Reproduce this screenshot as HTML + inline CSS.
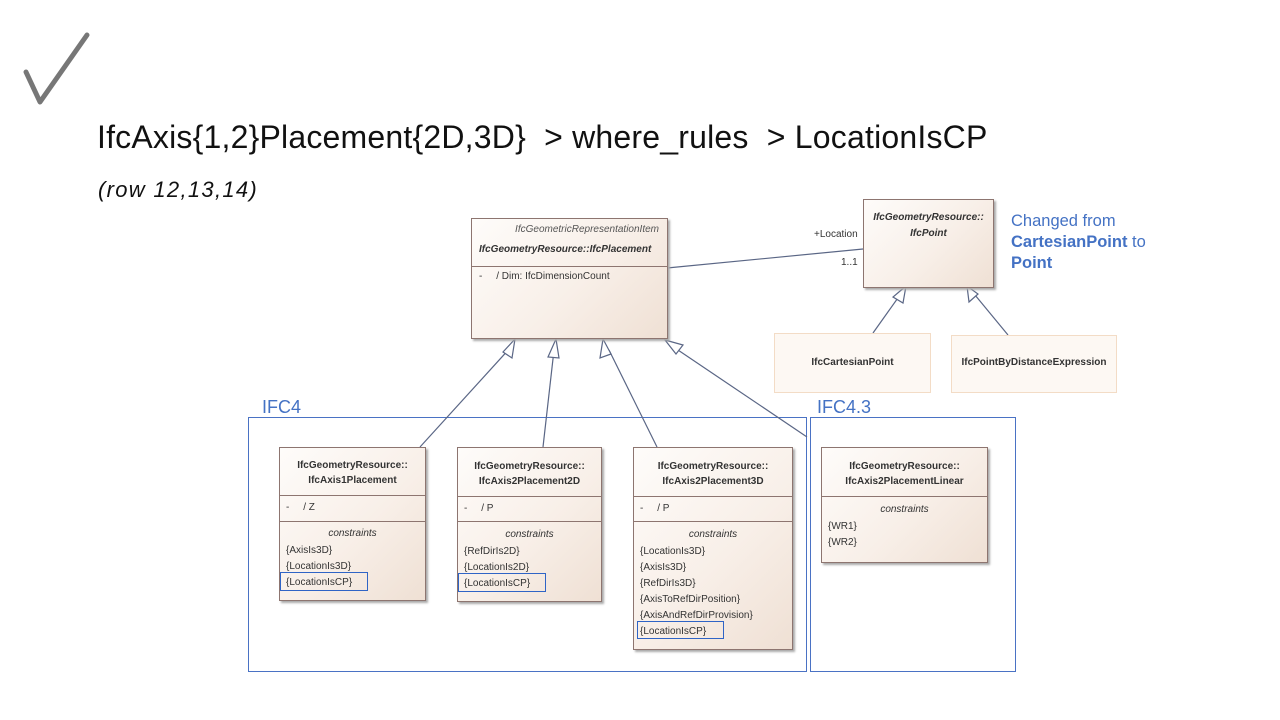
<!DOCTYPE html>
<html><head><meta charset="utf-8"><style>
body{margin:0;width:1280px;height:720px;background:#fff;position:relative;overflow:hidden;font-family:"Liberation Sans",sans-serif}
.b{position:absolute;border:1px solid #8d7570;background:linear-gradient(135deg,#fefcfa 0%,#f8efe8 55%,#efe0d4 100%);box-shadow:2px 2px 2px #aaa;box-sizing:border-box;font-size:10px;color:#333}
.s{position:absolute;left:0;right:0;border-top:1px solid #8d7570}
.t{position:absolute;font-size:10px;color:#333;white-space:nowrap}
.c{position:absolute;left:0;right:0;text-align:center;font-weight:bold;font-size:10px;line-height:15px;color:#333}
.r{position:absolute;border:1px solid #2f64c6}
.l{position:absolute;border:1px solid #4a72c4}
</style></head><body>
<svg style="position:absolute;left:0;top:0" width="120" height="120"><polyline points="26,72 40,102 87,35" fill="none" stroke="#777" stroke-width="5" stroke-linejoin="round" stroke-linecap="round"/></svg>
<div style="position:absolute;left:97px;top:119px;font-size:32px;letter-spacing:0.2px;color:#111;white-space:nowrap">IfcAxis{1,2}Placement{2D,3D}&nbsp; &gt; where_rules&nbsp; &gt; LocationIsCP</div>
<div style="position:absolute;left:98px;top:177px;font-size:22px;font-style:italic;color:#111;letter-spacing:1.3px">(row 12,13,14)</div>

<div class="l" style="left:248px;top:417px;width:557px;height:253px"></div>
<div class="l" style="left:810px;top:417px;width:204px;height:253px"></div>
<div style="position:absolute;left:262px;top:397px;font-size:18px;color:#4472c4">IFC4</div>
<div style="position:absolute;left:817px;top:397px;font-size:18px;color:#4472c4">IFC4.3</div>

<svg style="position:absolute;left:0;top:0" width="1280" height="720">
<g stroke="#5a6685" stroke-width="1.2" fill="#fff">
<line x1="667" y1="268" x2="863" y2="249"/>
<line x1="420" y1="447" x2="511" y2="347"/>
<line x1="543" y1="447" x2="554" y2="350"/>
<line x1="657" y1="447" x2="609" y2="350"/>
<line x1="807" y1="437" x2="675" y2="348"/>
<line x1="873" y1="333" x2="900" y2="295"/>
<line x1="1008" y1="335" x2="975" y2="295"/>
<polygon points="515,339 503,352 512,358"/>
<polygon points="556,339 548,357 559,358"/>
<polygon points="603,339 600,358 611,354"/>
<polygon points="665,340 676,354 683,345"/>
<polygon points="906,286 893,297 903,303"/>
<polygon points="967,286 969,302 978,294"/>
</g></svg>
<div class="t" style="left:814px;top:229px">+Location</div>
<div class="t" style="left:841px;top:257px">1..1</div>

<div class="b" style="left:471px;top:218px;width:197px;height:121px">
<div class="t" style="right:8px;top:5px;font-style:italic;color:#555">IfcGeometricRepresentationItem</div>
<div class="t" style="left:7px;top:25px;font-style:italic;font-weight:bold">IfcGeometryResource::IfcPlacement</div>
<div class="s" style="top:47px"></div>
<div class="t" style="left:7px;top:52px">-&nbsp;&nbsp;&nbsp;&nbsp;&nbsp;/ Dim: IfcDimensionCount</div>
</div>
<div class="b" style="left:863px;top:199px;width:131px;height:89px">
<div class="c" style="top:10px;font-style:italic;line-height:16px">IfcGeometryResource::<br>IfcPoint</div>
</div>
<div class="b" style="left:774px;top:333px;width:157px;height:60px;border-color:#f3dcc6;box-shadow:none;background:#fdf8f3"><div class="c" style="top:21px">IfcCartesianPoint</div></div>
<div class="b" style="left:951px;top:335px;width:166px;height:58px;border-color:#f3dcc6;box-shadow:none;background:#fdf8f3"><div class="c" style="top:19px">IfcPointByDistanceExpression</div></div>

<div class="b" style="left:279px;top:447px;width:147px;height:154px">
<div class="c" style="top:10px">IfcGeometryResource::<br>IfcAxis1Placement</div>
<div class="s" style="top:47px"></div>
<div class="t" style="left:6px;top:54px">-&nbsp;&nbsp;&nbsp;&nbsp;&nbsp;/ Z</div>
<div class="s" style="top:73px"></div>
<div class="t" style="left:0;right:0;top:80px;text-align:center;font-style:italic">constraints</div>
<div class="t" style="left:6px;top:95px;line-height:16px">{AxisIs3D}<br>{LocationIs3D}<br>{LocationIsCP}</div>
<div class="r" style="left:0;top:124px;width:86px;height:17px"></div>
</div>
<div class="b" style="left:457px;top:447px;width:145px;height:155px">
<div class="c" style="top:11px">IfcGeometryResource::<br>IfcAxis2Placement2D</div>
<div class="s" style="top:48px"></div>
<div class="t" style="left:6px;top:55px">-&nbsp;&nbsp;&nbsp;&nbsp;&nbsp;/ P</div>
<div class="s" style="top:73px"></div>
<div class="t" style="left:0;right:0;top:81px;text-align:center;font-style:italic">constraints</div>
<div class="t" style="left:6px;top:96px;line-height:16px">{RefDirIs2D}<br>{LocationIs2D}<br>{LocationIsCP}</div>
<div class="r" style="left:0;top:125px;width:86px;height:17px"></div>
</div>
<div class="b" style="left:633px;top:447px;width:160px;height:203px">
<div class="c" style="top:11px">IfcGeometryResource::<br>IfcAxis2Placement3D</div>
<div class="s" style="top:48px"></div>
<div class="t" style="left:6px;top:55px">-&nbsp;&nbsp;&nbsp;&nbsp;&nbsp;/ P</div>
<div class="s" style="top:73px"></div>
<div class="t" style="left:0;right:0;top:81px;text-align:center;font-style:italic">constraints</div>
<div class="t" style="left:6px;top:96px;line-height:16px">{LocationIs3D}<br>{AxisIs3D}<br>{RefDirIs3D}<br>{AxisToRefDirPosition}<br>{AxisAndRefDirProvision}<br>{LocationIsCP}</div>
<div class="r" style="left:3px;top:173px;width:85px;height:16px"></div>
</div>
<div class="b" style="left:821px;top:447px;width:167px;height:116px">
<div class="c" style="top:11px">IfcGeometryResource::<br>IfcAxis2PlacementLinear</div>
<div class="s" style="top:48px"></div>
<div class="t" style="left:0;right:0;top:56px;text-align:center;font-style:italic">constraints</div>
<div class="t" style="left:6px;top:71px;line-height:16px">{WR1}<br>{WR2}</div>
</div>

<div style="position:absolute;left:1011px;top:211px;font-size:16.5px;color:#4472c4;line-height:21px">Changed from<br><b>CartesianPoint</b> to<br><b>Point</b></div>
</body></html>
